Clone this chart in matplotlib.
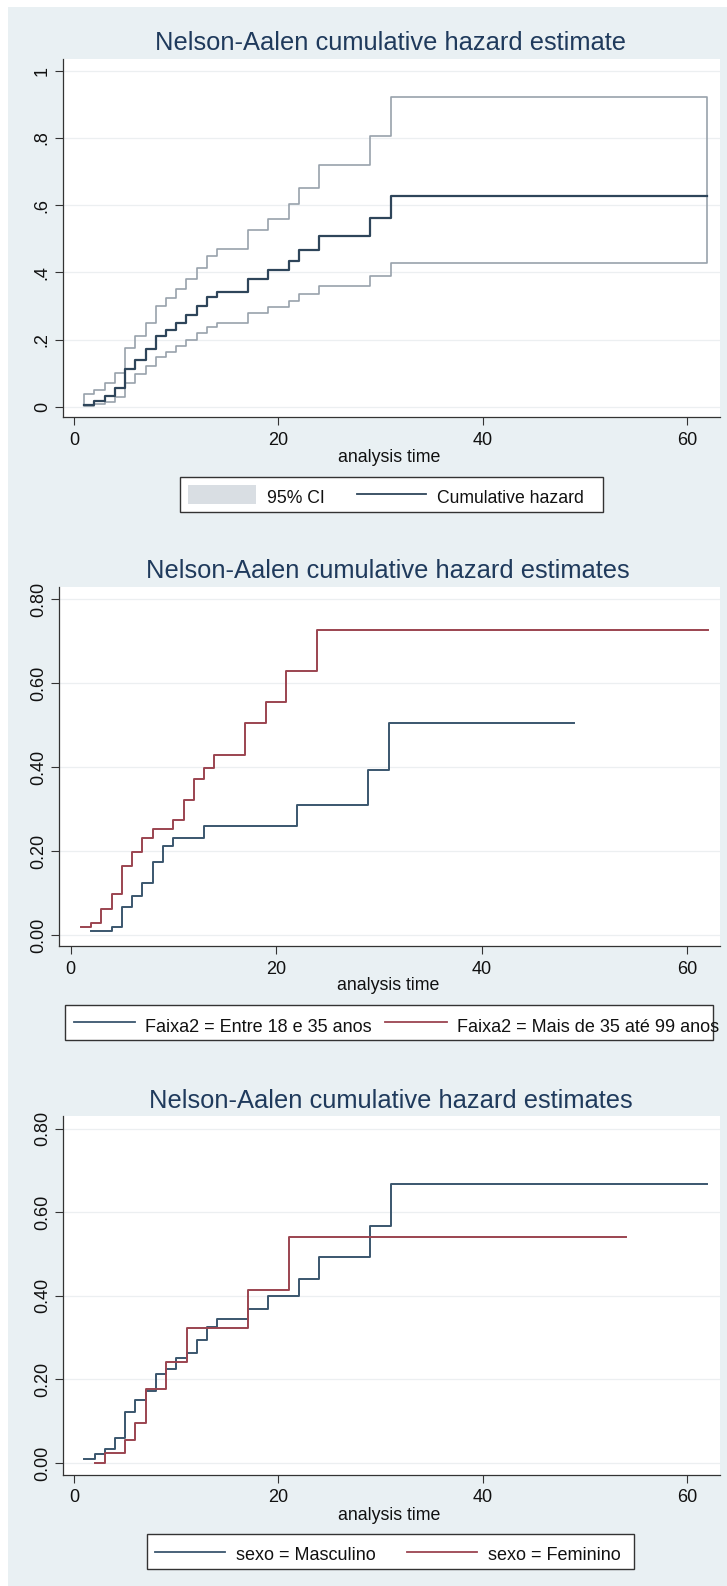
import matplotlib
matplotlib.use("Agg")
import matplotlib.pyplot as plt
from matplotlib.patches import Rectangle
from matplotlib.lines import Line2D

plt.rcParams['font.family'] = ['Liberation Sans', 'DejaVu Sans']

# overall Nelson-Aalen estimate and its 95% band (last point = end of follow-up)
na_time = [1, 2, 3, 4, 5, 6, 7, 8, 9, 10, 11, 12, 13, 14, 17, 19, 21, 22, 24, 29, 31, 62]
na_cumhaz = [0.006, 0.018, 0.033, 0.057, 0.111, 0.139, 0.173, 0.210, 0.228, 0.248, 0.272,
             0.300, 0.326, 0.342, 0.381, 0.407, 0.434, 0.466, 0.508, 0.561, 0.628, 0.628]
na_upper = [0.038, 0.050, 0.071, 0.101, 0.174, 0.211, 0.250, 0.299, 0.323, 0.351, 0.381,
            0.412, 0.449, 0.468, 0.525, 0.558, 0.602, 0.651, 0.718, 0.807, 0.923, 0.923]
na_lower = [0.002, 0.007, 0.015, 0.030, 0.071, 0.097, 0.121, 0.149, 0.163, 0.181, 0.199,
            0.218, 0.238, 0.248, 0.278, 0.296, 0.315, 0.335, 0.360, 0.390, 0.429, 0.429]

# by age group (Faixa2)
young_time = [2, 4, 5, 6, 7, 8, 9, 10, 13, 22, 29, 31, 49]
young_h = [0.010, 0.020, 0.066, 0.094, 0.123, 0.173, 0.212, 0.232, 0.260, 0.310, 0.394, 0.505, 0.505]
old_time = [1, 2, 3, 4, 5, 6, 7, 8, 10, 11, 12, 13, 14, 17, 19, 21, 24, 62]
old_h = [0.020, 0.029, 0.061, 0.098, 0.164, 0.197, 0.232, 0.252, 0.274, 0.321, 0.371, 0.397,
         0.429, 0.504, 0.555, 0.628, 0.726, 0.726]

# by sex
masc_time = [1, 2, 3, 4, 5, 6, 7, 8, 9, 10, 11, 12, 13, 14, 17, 19, 22, 24, 29, 31, 62]
masc_h = [0.010, 0.022, 0.033, 0.061, 0.123, 0.150, 0.172, 0.214, 0.226, 0.252, 0.262, 0.294,
          0.326, 0.344, 0.369, 0.400, 0.440, 0.494, 0.567, 0.667, 0.667]
fem_time = [2, 3, 5, 6, 7, 9, 11, 17, 21, 54]
fem_h = [0.0, 0.023, 0.055, 0.095, 0.178, 0.241, 0.324, 0.415, 0.541, 0.541]

x_ticks = [0, 20, 40, 60]
y_ticks1 = [0, 0.2, 0.4, 0.6, 0.8, 1.0]
y_labels1 = ['0', '.2', '.4', '.6', '.8', '1']
y_ticks2 = [0, 0.2, 0.4, 0.6, 0.8]
y_labels2 = ['0.00', '0.20', '0.40', '0.60', '0.80']

W, H = 727, 1586
BG = '#E9F0F3'
NAVY = '#3A566E'
DARK = '#2E455A'
MAROON = '#9B4450'
CI_GRAY = '#98A2AC'
TITLE_C = '#1F3A5C'
AX_C = '#333333'

fig = plt.figure(figsize=(W / 100, H / 100), dpi=100, facecolor='white')
fig.add_artist(Rectangle((8 / W, 0), 1, 1 - 7 / H, transform=fig.transFigure,
                         facecolor=BG, edgecolor='none', zorder=-10))


def ftext(x, y, s, **kw):
    fig.text(x / W, 1 - y / H, s, **kw)


def panel(box, xcal, ycal, yt, ylab):
    left, top, right, bottom = box
    ax = fig.add_axes([left / W, 1 - bottom / H, (right - left) / W, (bottom - top) / H])
    px0, px60 = xcal
    sx = (px60 - px0) / 60
    ax.set_xlim((left - px0) / sx, (right - px0) / sx)
    py0, pyv, v = ycal
    sy = (py0 - pyv) / v
    ax.set_ylim((py0 - bottom) / sy, (py0 - top) / sy)
    for s in ['top', 'right']:
        ax.spines[s].set_visible(False)
    for s in ['left', 'bottom']:
        ax.spines[s].set_color(AX_C)
        ax.spines[s].set_linewidth(0.9)
    ax.set_xticks(x_ticks)
    ax.set_yticks(yt)
    ax.set_yticklabels(ylab, rotation=90, va='center')
    ax.tick_params(length=5.5, width=0.8, color=AX_C, labelsize=13, labelcolor='#111111')
    ax.tick_params(axis='y', pad=3)
    ax.tick_params(axis='x', pad=5)
    ax.grid(axis='y', color='#ECEFF1', lw=0.9)
    ax.set_axisbelow(True)
    return ax


def key(box, entries, ybase, size):
    l, t, r, b = box
    fig.add_artist(Rectangle((l / W, 1 - b / H), (r - l) / W, (b - t) / H, transform=fig.transFigure,
                             facecolor='white', edgecolor=AX_C, lw=1.0))
    ymid = (t + b) / 2
    for kind, x0, x1, color, tx, label in entries:
        if kind == 'patch':
            fig.add_artist(Rectangle((x0 / W, 1 - 504 / H), (x1 - x0) / W, 19 / H,
                                     transform=fig.transFigure, facecolor=color, edgecolor='none'))
        else:
            fig.add_artist(Line2D([x0 / W, x1 / W], [1 - ymid / H, 1 - ymid / H],
                                  transform=fig.transFigure, color=color, lw=1.3))
        ftext(tx, ybase, label, fontsize=size, color='#111111', va='baseline')


# panel 1: overall estimate with confidence band
ax1 = panel((62.6, 59.3, 720, 417), (74, 687), (406.7, 70.7, 1.0), y_ticks1, y_labels1)
ax1.fill_between(na_time, na_lower, na_upper, step='post', facecolor='none',
                 edgecolor=CI_GRAY, lw=1.2)
ax1.step(na_time, na_cumhaz, where='post', color=DARK, lw=1.6)
ftext(390, 50.5, 'Nelson-Aalen cumulative hazard estimate', fontsize=18.4, color=TITLE_C,
      ha='center', va='baseline')
ftext(389, 462.5, 'analysis time', fontsize=12.8, color='#111111', ha='center', va='baseline')
key((180, 477, 602.7, 511.7),
    [('patch', 187.8, 256.4, '#D9DEE3', 266.6, '95% CI'),
     ('line', 357, 425.6, DARK, 437, 'Cumulative hazard')], 503, 12.7)

# panel 2: by age group
ax2 = panel((58.9, 586.7, 720, 946), (70.5, 687), (935, 599, 0.8), y_ticks2, y_labels2)
ax2.step(young_time, young_h, where='post', color=NAVY, lw=1.4)
ax2.step(old_time, old_h, where='post', color=MAROON, lw=1.4)
ftext(388, 578, 'Nelson-Aalen cumulative hazard estimates', fontsize=18.4, color=TITLE_C,
      ha='center', va='baseline')
ftext(388, 990, 'analysis time', fontsize=12.8, color='#111111', ha='center', va='baseline')
key((65, 1005, 713, 1039.5),
    [('line', 74, 134.5, NAVY, 145, 'Faixa2 = Entre 18 e 35 anos'),
     ('line', 385, 447, MAROON, 456.7, 'Faixa2 = Mais de 35 até 99 anos')], 1031.5, 13)

# panel 3: by sex
ax3 = panel((62.6, 1116, 720, 1474.5), (74.2, 687), (1463, 1128.6, 0.8), y_ticks2, y_labels2)
ax3.step(masc_time, masc_h, where='post', color=NAVY, lw=1.4)
ax3.step(fem_time, fem_h, where='post', color=MAROON, lw=1.4)
ftext(390.6, 1108, 'Nelson-Aalen cumulative hazard estimates', fontsize=18.4, color=TITLE_C,
      ha='center', va='baseline')
ftext(389, 1520, 'analysis time', fontsize=12.8, color='#111111', ha='center', va='baseline')
key((147.4, 1534.4, 634, 1569),
    [('line', 155, 225, NAVY, 235.5, 'sexo = Masculino'),
     ('line', 407, 476.6, MAROON, 487.7, 'sexo = Feminino')], 1560, 13)

fig.savefig('out.png', dpi=100, facecolor=fig.get_facecolor())
